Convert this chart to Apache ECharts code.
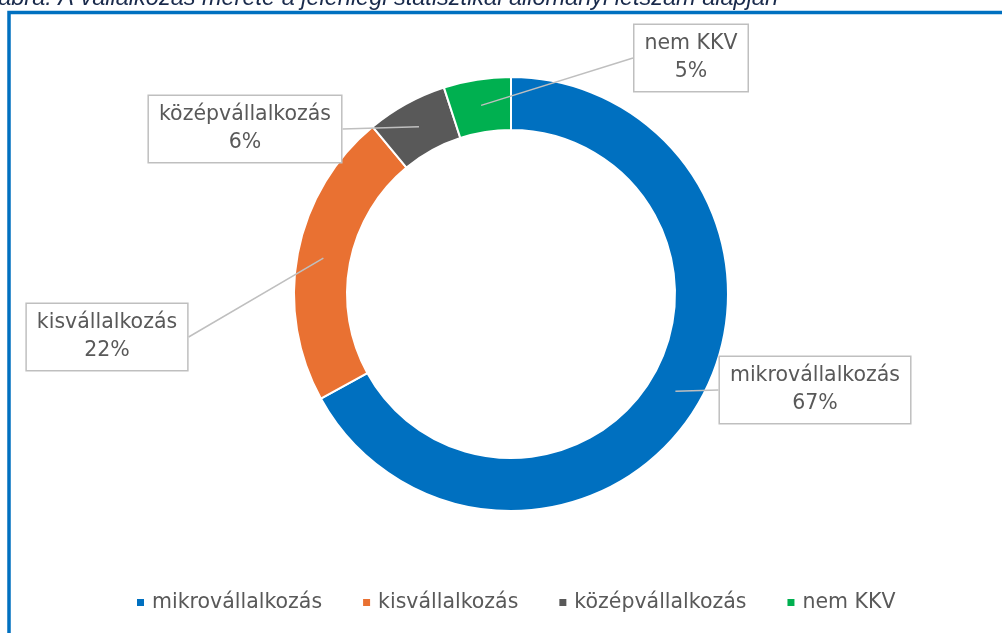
<!DOCTYPE html>
<html>
<head>
<meta charset="utf-8">
<script src="https://cdn.jsdelivr.net/npm/echarts@6/dist/echarts.min.js"></script>
<style>
  html, body { margin: 0; padding: 0; background: #fff; }
  #main { width: 1002px; height: 633px; }
</style>
</head>
<body>
<div id="main"></div>
<script>
// adatok
var categories = ['mikrovállalkozás', 'kisvállalkozás', 'középvállalkozás', 'nem KKV'];
var shares = [67, 22, 6, 5];
var colors = ['#0070C0', '#E97132', '#595959', '#00B050'];

// label box centres (layout only)
var labelPos = [[815, 390], [107, 337], [245, 129], [691, 58]];

var chartDom = document.getElementById('main');
var myChart = echarts.init(chartDom);
var option;

var font = '"DejaVu Sans", sans-serif';
var pieData = categories.map(function (c, i) {
  return { name: c, value: shares[i] };
});

option = {
  animation: false,
  color: colors,
  graphic: [
    {
      type: 'rect',
      shape: { x: 9, y: 12.5, width: 1200, height: 800 },
      style: { fill: 'none', stroke: '#0070C0', lineWidth: 3.5 },
      silent: true
    },
    {
      type: 'text',
      x: 778,
      y: 10,
      style: {
        text: '1. ábra: A vállalkozás mérete a jelenlegi statisztikai állományi létszám alapján',
        fill: '#1A2B4C',
        font: 'italic 23.5px "Liberation Sans", sans-serif',
        textAlign: 'right',
        textVerticalAlign: 'bottom'
      },
      silent: true
    }
  ],
  legend: {
    data: categories,
    left: 130,
    top: 587,
    icon: 'rect',
    itemWidth: 9,
    itemHeight: 9,
    itemGap: 39,
    selectedMode: false,
    textStyle: { color: '#595959', fontSize: 20.5, fontFamily: font, padding: [0, 0, 0, 2] }
  },
  series: [
    {
      // the ring itself
      type: 'pie',
      center: [511, 294],
      radius: [164, 217],
      startAngle: 90,
      clockwise: true,
      emphasis: { disabled: true },
      itemStyle: { borderColor: '#ffffff', borderWidth: 2 },
      label: { show: false },
      labelLine: { show: false },
      data: pieData
    },
    {
      // transparent helper so the callout lines end in the middle of the ring
      type: 'pie',
      center: [511, 294],
      radius: [0, 191],
      startAngle: 90,
      clockwise: true,
      silent: true,
      z: 3,
      avoidLabelOverlap: false,
      emphasis: { disabled: true },
      itemStyle: { color: 'rgba(0,0,0,0)' },
      label: {
        show: true,
        position: 'outside',
        formatter: function (p) { return p.name + '\n' + p.value + '%'; },
        color: '#595959',
        fontSize: 20.5,
        fontFamily: font,
        lineHeight: 28,
        align: 'center',
        backgroundColor: '#ffffff',
        borderColor: '#BFBFBF',
        borderWidth: 1.5,
        padding: [5, 10, 5, 10]
      },
      labelLine: {
        show: true,
        length: 20,
        length2: 0,
        lineStyle: { color: '#BFBFBF', width: 1.5 }
      },
      labelLayout: function (params) {
        var pos = labelPos[params.dataIndex];
        return { x: pos[0], y: pos[1], align: 'center', verticalAlign: 'middle' };
      },
      data: pieData
    }
  ]
};

option && myChart.setOption(option);

window.addEventListener('resize', myChart.resize);
</script>
</body>
</html>
